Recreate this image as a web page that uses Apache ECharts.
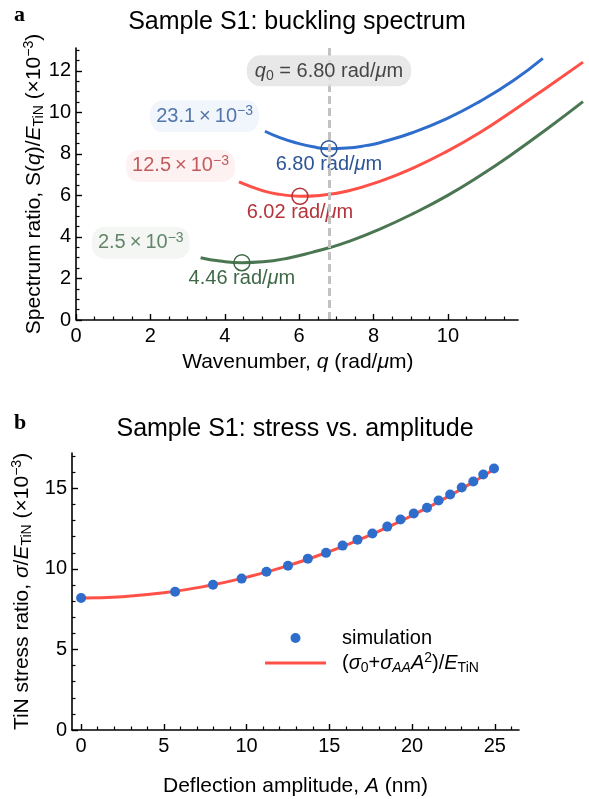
<!DOCTYPE html>
<html><head><meta charset="utf-8">
<script src="https://cdn.jsdelivr.net/npm/echarts@6/dist/echarts.min.js"></script>
<style>html,body{margin:0;padding:0;background:#fff}#c{width:589px;height:799px}</style>
</head><body><div id="c"></div>
<script>
// ---------- Panel a: buckling spectrum ----------
const blueQ  = [5.08, 5.48, 5.94, 6.37, 6.80, 7.28, 7.82, 8.17, 9.06, 9.97, 10.86, 11.75, 12.55];
const blueS  = [9.09, 8.78, 8.52, 8.34, 8.25, 8.28, 8.41, 8.54, 9.03, 9.70, 10.53, 11.52, 12.60];
const redQ   = [4.38, 5.03, 5.48, 6.02, 6.56, 7.28, 8.17, 9.06, 9.97, 10.86, 11.75, 12.66, 13.63];
const redS   = [6.65, 6.22, 6.05, 5.96, 6.00, 6.20, 6.68, 7.32, 8.12, 9.03, 10.08, 11.20, 12.42];
const greenQ = [3.35, 3.87, 4.46, 5.03, 5.75, 6.37, 6.80, 7.28, 8.17, 9.06, 9.97, 10.86, 11.75, 12.66, 13.63];
const greenS = [3.00, 2.84, 2.76, 2.80, 3.00, 3.27, 3.48, 3.75, 4.38, 5.12, 5.98, 6.95, 8.02, 9.20, 10.52];
const minQ = [6.80, 6.02, 4.46];
const minS = [8.25, 5.96, 2.76];
const minLabels = ['6.80', '6.02', '4.46'];
const ampLabels = ['23.1', '12.5', '2.5'];
const q0 = 6.80;
const q0Label = '6.80';
const xAxisEndA = 11.9;   // where the drawn x-axis line stops
const xTicksA = [0, 2, 4, 6, 8, 10];
const xMinorA = [0.5, 1, 1.5, 2.5, 3, 3.5, 4.5, 5, 5.5, 6.5, 7, 7.5, 8.5, 9, 9.5, 10.5, 11, 11.5];
const yTicksA = [0, 2, 4, 6, 8, 10, 12];
const yMinorA = [0.5, 1, 1.5, 2.5, 3, 3.5, 4.5, 5, 5.5, 6.5, 7, 7.5, 8.5, 9, 9.5, 10.5, 11, 11.5, 12.5, 13];

// ---------- Panel b: stress vs amplitude ----------
const simA = [0, 5.68, 7.97, 9.70, 11.2, 12.5, 13.7, 14.8, 15.8, 16.7, 17.6, 18.5, 19.3, 20.1, 20.9, 21.6, 22.3, 23.0, 23.7, 24.3, 24.95];
const simSigma = [8.20, 8.59, 9.02, 9.40, 9.83, 10.20, 10.64, 11.00, 11.45, 11.82, 12.20, 12.63, 13.07, 13.44, 13.80, 14.25, 14.62, 15.06, 15.43, 15.87, 16.24];
const fitA = [0, 2.5, 5, 7.5, 10, 12.5, 15, 17.5, 20, 22.5, 25];
const fitSigma = [8.20, 8.28, 8.52, 8.92, 9.48, 10.20, 11.08, 12.12, 13.32, 14.68, 16.22];
const xTicksB = [0, 5, 10, 15, 20, 25];
const xMinorB = [1, 2, 3, 4, 6, 7, 8, 9, 11, 12, 13, 14, 16, 17, 18, 19, 21, 22, 23, 24, 26];
const yTicksB = [0, 5, 10, 15];
const yMinorB = [1, 2, 3, 4, 6, 7, 8, 9, 11, 12, 13, 14, 16, 17];

// ---------- styling ----------
const F = 'Liberation Sans';
const BLUE = '#2f6dcc', RED = '#ff5147', GREEN = '#4a7752';
const BLUE_T = '#2c5596', RED_T = '#b3343a', GREEN_T = '#3e6846';
function rich(size, color) {
  return {
    n: {fontSize: size, color, fontFamily: F, lineHeight: 24},
    i: {fontSize: size, color, fontFamily: F, fontStyle: 'italic', lineHeight: 24},
    sub: {fontSize: Math.round(size * 0.68), color, fontFamily: F, verticalAlign: 'bottom', lineHeight: 16},
    isub: {fontSize: Math.round(size * 0.68), color, fontFamily: F, fontStyle: 'italic', verticalAlign: 'bottom', lineHeight: 16},
    sup: {fontSize: Math.round(size * 0.68), color, fontFamily: F, verticalAlign: 'top', lineHeight: 14}
  };
}
const zip = (a, b) => a.map((v, k) => [v, b[k]]);
const axLine = {show: true, onZero: false, lineStyle: {color: '#000', width: 1.6}};

function majorX(grid, min, max, ticks, name, gap, showLine, namePad) {
  return {gridIndex: grid, type: 'value', min, max, position: 'bottom',
    axisLine: showLine ? axLine : {show: false, onZero: false}, splitLine: {show: false},
    axisTick: {show: true, inside: true, length: 6, customValues: ticks, lineStyle: {color: '#000', width: 1.4}},
    axisLabel: {customValues: ticks, fontSize: 20, color: '#000', fontFamily: F, margin: 6},
    name, nameLocation: 'middle', nameGap: gap, nameMoveOverlap: false,
    nameTextStyle: {rich: rich(21, '#000'), padding: namePad || 0}};
}
function minorX(grid, min, max, ticks) {
  return {gridIndex: grid, type: 'value', min, max, position: 'bottom',
    axisLine: {show: false, onZero: false}, splitLine: {show: false}, axisLabel: {show: false},
    axisTick: {show: true, inside: true, length: 3.5, customValues: ticks, lineStyle: {color: '#000', width: 1.2}}};
}
function majorY(grid, min, max, ticks, name, gap) {
  return {gridIndex: grid, type: 'value', min, max, position: 'left',
    axisLine: axLine, splitLine: {show: false},
    axisTick: {show: true, inside: true, length: 6, customValues: ticks, lineStyle: {color: '#000', width: 1.4}},
    axisLabel: {customValues: ticks, fontSize: 20, color: '#000', fontFamily: F, margin: 5},
    name, nameLocation: 'middle', nameRotate: 90, nameGap: gap, nameMoveOverlap: false,
    nameTextStyle: {rich: rich(21, '#000')}};
}
function minorY(grid, min, max, ticks) {
  return {gridIndex: grid, type: 'value', min, max, position: 'left',
    axisLine: {show: false, onZero: false}, splitLine: {show: false}, axisLabel: {show: false},
    axisTick: {show: true, inside: true, length: 3.5, customValues: ticks, lineStyle: {color: '#000', width: 1.2}}};
}

const curves = [
  {q: blueQ, s: blueS, c: BLUE, t: BLUE_T, bg: '#edf3fb', off: [-1, -15]},
  {q: redQ, s: redS, c: RED, t: RED_T, bg: '#fdefed', off: [1, -16]},
  {q: greenQ, s: greenS, c: GREEN, t: GREEN_T, bg: '#f1f4f1', off: [-6, -15]}
];

const series = [];
curves.forEach((cv) => {
  series.push({type: 'line', xAxisIndex: 0, yAxisIndex: 0, data: zip(cv.q, cv.s), smooth: 0.5,
    showSymbol: false, symbol: 'none', lineStyle: {color: cv.c, width: 3}, z: 2, silent: true});
});
// dashed q0 line + the drawn x-axis line of panel a
series.push({type: 'line', xAxisIndex: 0, yAxisIndex: 0, data: [], z: 3,
  markLine: {silent: true, symbol: 'none', label: {show: false},
    lineStyle: {color: '#c2c2c2', width: 3, type: [8, 4]}, data: [{xAxis: q0}]}});
series.push({type: 'line', xAxisIndex: 0, yAxisIndex: 0, data: [], z: 7,
  markLine: {silent: true, symbol: 'none', label: {show: false},
    lineStyle: {color: '#000', width: 1.6, type: 'solid'},
    data: [[{coord: [0, 0]}, {coord: [xAxisEndA, 0]}]]}});
// minimum circles + labels
series.push({type: 'scatter', xAxisIndex: 0, yAxisIndex: 0, z: 4, symbol: 'circle', symbolSize: 16,
  data: minQ.map((q, k) => ({value: [q, minS[k]],
    itemStyle: {color: 'rgba(0,0,0,0)', borderColor: curves[k].t, borderWidth: 1.5, opacity: 1},
    label: {show: true, position: 'inside', offset: [0, 16],
      formatter: '{n|' + minLabels[k] + ' rad/}{i|μ}{n|m}', rich: rich(20, curves[k].t)}}))});
// amplitude boxes at curve starts
series.push({type: 'scatter', xAxisIndex: 0, yAxisIndex: 0, z: 5, symbolSize: 0,
  data: curves.map((cv, k) => ({value: [cv.q[0], cv.s[0]],
    label: {show: true, position: 'left', distance: 5, offset: cv.off,
      backgroundColor: cv.bg, borderRadius: 13, padding: [4, 6, 4, 6],
      formatter: '{n|' + ampLabels[k] + '\u2009×\u200910}{sup|−3}', rich: rich(20, cv.t)}}))});
// q0 label
series.push({type: 'scatter', xAxisIndex: 0, yAxisIndex: 0, z: 6, symbolSize: 0,
  data: [{value: [q0, 12.0],
    label: {show: true, position: 'inside', backgroundColor: '#e2e2e2', borderRadius: 14, padding: [4, 8, 3, 8],
      formatter: '{i|q}{sub|0}{n| = ' + q0Label + ' rad/}{i|μ}{n|m}', rich: rich(20, '#1a1a1a')}}]});

// panel b
series.push({name: 'fit', type: 'line', xAxisIndex: 2, yAxisIndex: 2, data: zip(fitA, fitSigma), smooth: true,
  showSymbol: false, symbol: 'none', lineStyle: {color: RED, width: 3}, itemStyle: {color: RED}, z: 2});
series.push({name: 'simulation', type: 'scatter', xAxisIndex: 2, yAxisIndex: 2, data: zip(simA, simSigma),
  symbol: 'circle', symbolSize: 10, itemStyle: {color: BLUE, opacity: 1}, z: 3});

const option = {
  animation: false,
  backgroundColor: '#fff',
  grid: [
    {left: 76, width: 509.6, top: 48, height: 272},
    {left: 72, right: 70, top: 453, height: 277}
  ],
  xAxis: [
    majorX(0, 0, 13.7, xTicksA, '{n|Wavenumber, }{i|q}{n| (rad/}{i|μ}{n|m)}', 30, false, [0, 66, 0, 0]),
    minorX(0, 0, 13.7, xMinorA),
    majorX(1, -0.55, 26.46, xTicksB, '{n|Deflection amplitude, }{i|A}{n| (nm)}', 44, true),
    minorX(1, -0.55, 26.46, xMinorB)
  ],
  yAxis: [
    majorY(0, 0, 13.1, yTicksA, '{n|Spectrum ratio, S(}{i|q}{n|)/}{i|E}{sub|TiN}{n| (×10}{sup|−3}{n|)}', 30),
    minorY(0, 0, 13.1, yMinorA),
    majorY(1, 0, 17.2, yTicksB, '{n|TiN stress ratio, }{i|σ}{n|/}{i|E}{sub|TiN}{n| (×10}{sup|−3}{n|)}', 38),
    minorY(1, 0, 17.2, yMinorB)
  ],
  legend: {
    orient: 'vertical', left: 260, top: 623, itemWidth: 61, itemHeight: 10, itemGap: 3,
    data: [{name: 'simulation', icon: 'circle'}, {name: 'fit', icon: 'path://M0,0H61V3.2H0Z'}],
    formatter: (n) => n === 'simulation' ? '{n|simulation}' :
      '{n|(}{i|σ}{sub|0}{n|+}{i|σ}{isub|AA}{i|A}{sup|2}{n|)/}{i|E}{sub|TiN}',
    textStyle: {fontSize: 20, color: '#000', fontFamily: F, padding: [0, 0, 0, 11], rich: rich(20, '#000')}
  },
  graphic: [
    {type: 'text', x: 297, y: 22.5, style: {text: 'Sample S1: buckling spectrum', fill: '#000',
      font: '25px "Liberation Sans"', textAlign: 'center', textVerticalAlign: 'middle'}},
    {type: 'text', x: 295, y: 429, style: {text: 'Sample S1: stress vs. amplitude', fill: '#000',
      font: '25px "Liberation Sans"', textAlign: 'center', textVerticalAlign: 'middle'}},
    {type: 'text', x: 14, y: 15, style: {text: 'a', fill: '#000',
      font: 'bold 22px "Liberation Serif"', textAlign: 'left', textVerticalAlign: 'middle'}},
    {type: 'text', x: 14, y: 423, style: {text: 'b', fill: '#000',
      font: 'bold 22px "Liberation Serif"', textAlign: 'left', textVerticalAlign: 'middle'}}
  ],
  series
};
const chart = echarts.init(document.getElementById('c'), null, {renderer: 'canvas'});
chart.setOption(option);
</script></body></html>
